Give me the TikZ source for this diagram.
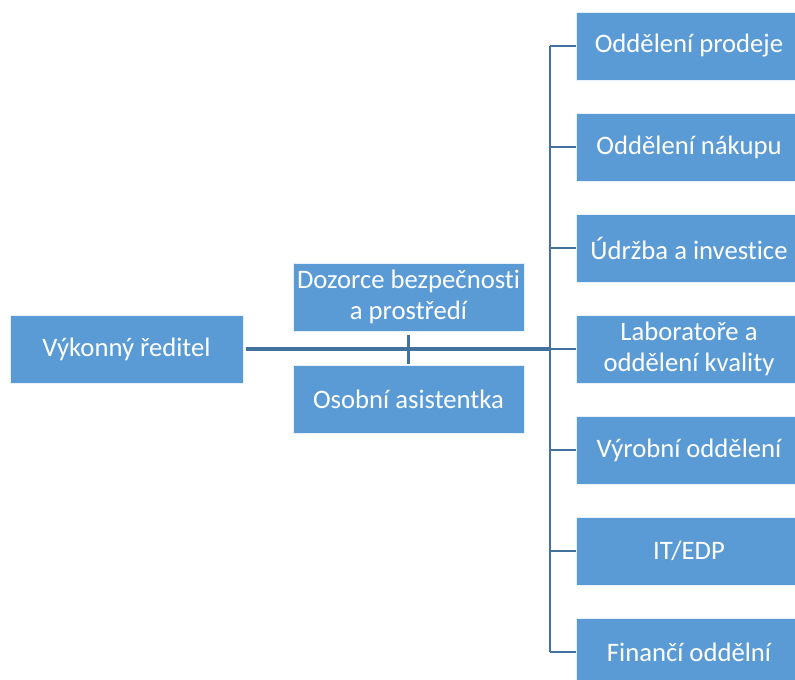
\documentclass[tikz,border=0pt]{standalone}
\usepackage{fontspec}
\setmainfont{Carlito}[Ligatures=NoCommon]
\definecolor{boxblue}{HTML}{5B9BD5}
\definecolor{linkblue}{HTML}{41719C}
\begin{document}
\begin{tikzpicture}[x=0.75pt,y=-0.75pt,
  unit/.style={fill=boxblue, draw=white!85!boxblue, line width=0.4pt, text=white,
    font=\fontsize{20pt}{23.5pt}\selectfont, align=center, inner sep=0pt,
    minimum height=51pt},
  midunit/.style={unit, minimum width=173pt},
  dept/.style={unit, minimum width=169pt},
  link/.style={draw=linkblue, line width=1.6pt},
  mainlink/.style={draw=linkblue, line width=2.8pt}]
\useasboundingbox (0,0) rectangle (795,680);
\clip (0,0) rectangle (795,680);

% executive and staff positions
\node[unit, minimum width=175pt] (exec) at (126.5,349) {Výkonný ředitel};
\node[midunit] (safety) at (408.5,297) {Dozorce bezpečnosti\\a prostředí};
\node[midunit] (assist) at (408.5,399) {Osobní asistentka};

% departments
\node[dept] (d1) at (689,46)  {Oddělení prodeje};
\node[dept] (d2) at (689,147) {Oddělení nákupu};
\node[dept] (d3) at (689,248) {Údržba a investice};
\node[dept] (d4) at (689,349) {Laboratoře a\\oddělení kvality};
\node[dept] (d5) at (689,450) {Výrobní oddělení};
\node[dept] (d6) at (689,551) {IT/EDP};
\node[dept] (d7) at (689,652) {Finančí oddělní};

% trunk joints
\foreach \i/\y in {1/46,2/147,3/248,4/349,5/450,6/551,7/652}
  \coordinate (t\i) at (550,\y);

% connectors
\draw[mainlink] ([xshift=2]exec.east) -- (t4);
\draw[link] ([yshift=-2.5pt]safety.south) -- ([yshift=0.8pt]assist.north);
\draw[link] (t1) -- (t7);
\foreach \i in {1,...,7}
  \draw[link] (t\i) -- (d\i.west);
\end{tikzpicture}
\end{document}
